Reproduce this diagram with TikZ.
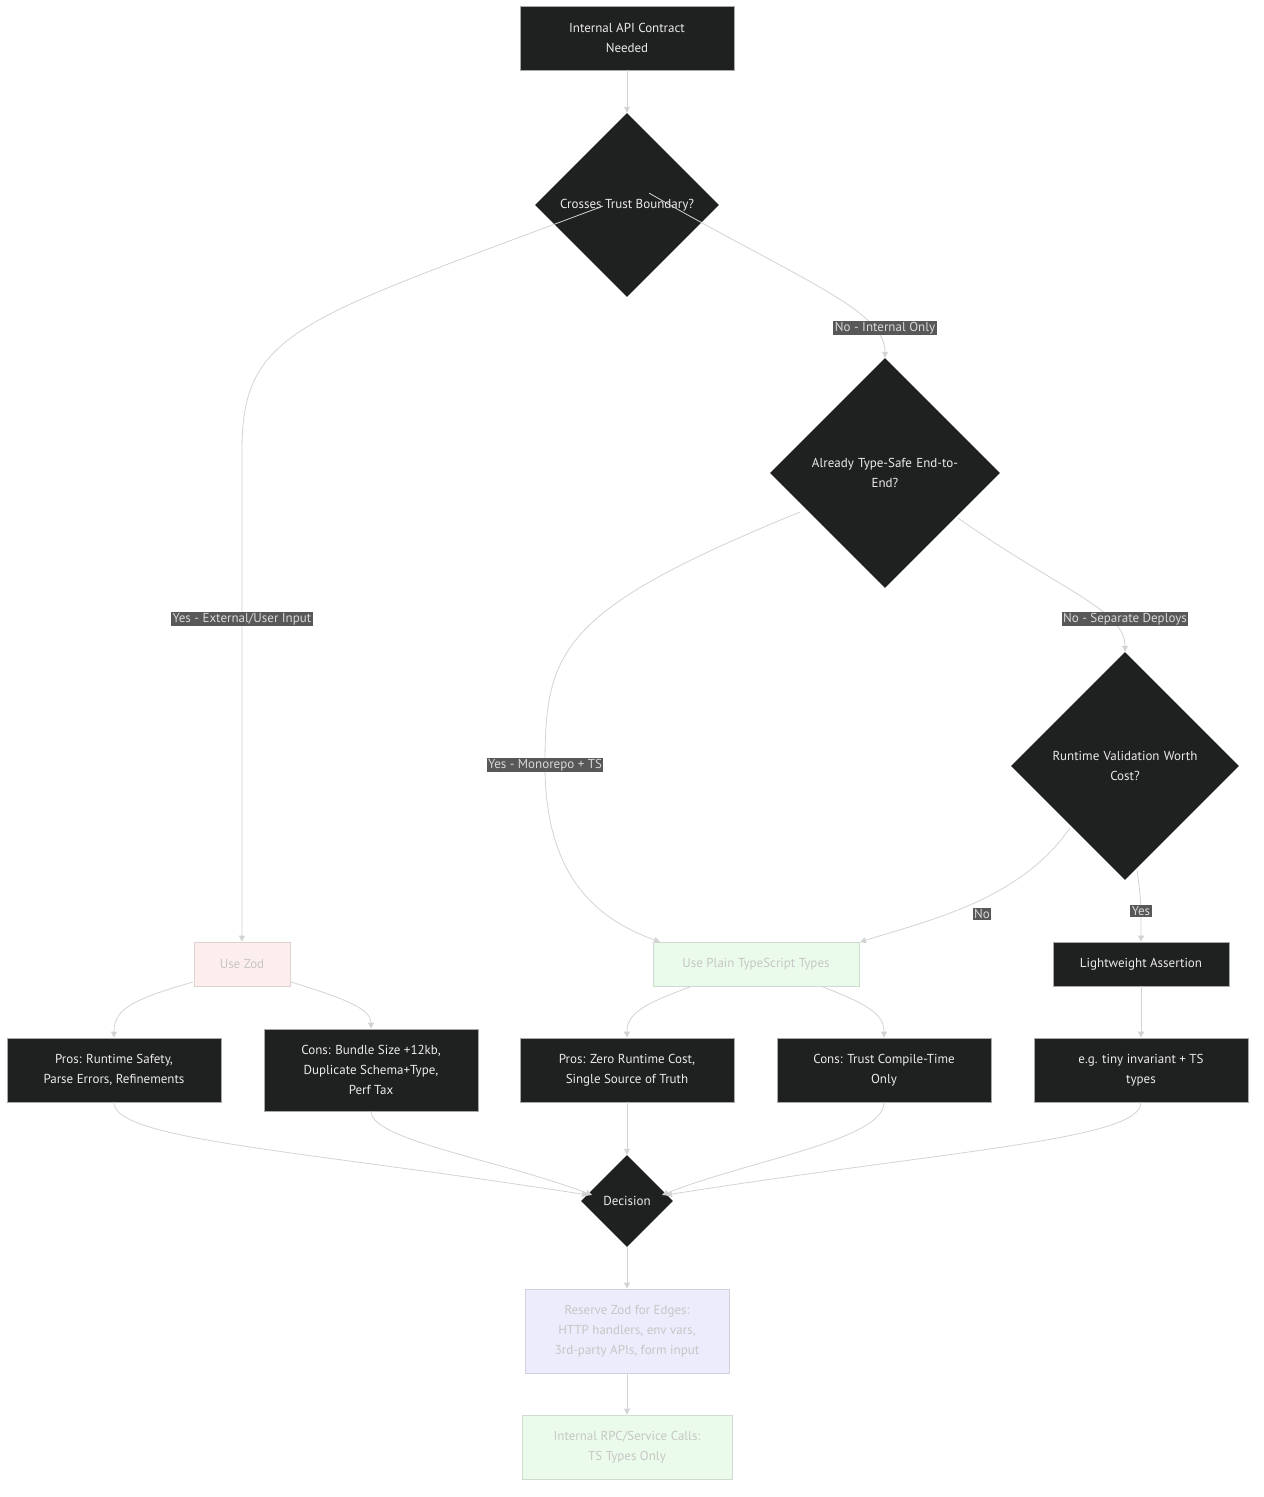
\documentclass[tikz,border=0pt]{standalone}
\usepackage{fontspec}
\setmainfont{PT Sans}
\usetikzlibrary{shapes.geometric,arrows.meta}
\definecolor{dk}{HTML}{1F2020}
\definecolor{ln}{HTML}{D3D3D3}
\definecolor{lab}{HTML}{585858}
\begin{document}
\begin{tikzpicture}[x=1pt,y=-1pt,
  font=\fontsize{13}{20}\selectfont,
  box/.style={draw=ln!80!black,fill=dk,text=white!92!black,align=center,inner sep=0pt,line width=0.8pt},
  pale/.style={draw=#1!75!gray,fill=#1,text=ln!85!gray,align=center,inner sep=0pt,line width=0.8pt},
  dia/.style={diamond,aspect=1,fill=dk,text=white!92!black,align=center,inner sep=0pt},
  e/.style={draw=ln,line width=0.8pt,-{Triangle[length=6pt,width=6pt]}},
  el/.style={fill=lab,text=white!85!black,inner sep=1.5pt,font=\fontsize{13}{15}\selectfont}]
\useasboundingbox (0,0) rectangle (1264,1497);
\definecolor{zf}{HTML}{FDEEEE}\definecolor{gf}{HTML}{EBFBEB}\definecolor{pf}{HTML}{ECECFC}
\node[box,minimum width=214,minimum height=64] (start) at (627,38) {Internal API Contract\\Needed};
\node[dia,minimum width=184,minimum height=184] (d1) at (627,205) {Crosses Trust Boundary?};
\node[dia,minimum width=230,minimum height=230,text width=160] (d2) at (885,473) {Already Type-Safe End-to-\\End?};
\node[dia,minimum width=228,minimum height=228,text width=160] (d3) at (1125,766) {Runtime Validation Worth\\Cost?};
\node[pale=zf,minimum width=96,minimum height=44] (zod) at (242,964) {Use Zod};
\node[pale=gf,minimum width=206,minimum height=44] (plain) at (756,964) {Use Plain TypeScript Types};
\node[box,minimum width=176,minimum height=44] (light) at (1141,964) {Lightweight Assertion};
\node[box,minimum width=214,minimum height=64] (pros1) at (114,1070) {Pros: Runtime Safety,\\Parse Errors, Refinements};
\node[box,minimum width=214,minimum height=82] (cons1) at (371,1070) {Cons: Bundle Size +12kb,\\Duplicate Schema+Type,\\Perf Tax};
\node[box,minimum width=214,minimum height=64] (pros2) at (627,1070) {Pros: Zero Runtime Cost,\\Single Source of Truth};
\node[box,minimum width=214,minimum height=64] (cons2) at (884,1070) {Cons: Trust Compile-Time\\Only};
\node[box,minimum width=214,minimum height=64] (eg) at (1141,1070) {e.g. tiny invariant + TS\\types};
\node[dia,minimum width=92,minimum height=92] (dec) at (627,1201) {Decision};
\node[pale=pf,minimum width=204,minimum height=84] (res) at (627,1331) {Reserve Zod for Edges:\\HTTP handlers, env vars,\\3rd-party APIs, form input};
\node[pale=gf,minimum width=210,minimum height=64] (fin) at (627,1447) {Internal RPC/Service Calls:\\TS Types Only};
% edges
\draw[e] (start) -- (d1);
\draw[e] (d1.south west) ++(22,-45) coordinate (a1) (a1) .. controls (300,320) and (242,330) .. (242,450) -- (zod.north);
\node[el] at (242,619) {Yes - External/User Input};
\draw[e] (d1.south east) ++(-24,-58) coordinate (a2) (a2) .. controls (800,280) and (885,310) .. (d2.north);
\node[el] at (885,328) {No - Internal Only};
\draw[e] (800,512) .. controls (560,610) and (545,650) .. (545,765) .. controls (545,880) and (600,920) .. (660,942);
\coordinate (pt) at (plain.north west);
\node[el] at (545,765) {Yes - Monorepo + TS};
\draw[e] (958,518) .. controls (1060,590) and (1125,610) .. (d3.north);
\node[el] at (1125,619) {No - Separate Deploys};
\draw[e] (1070,828) .. controls (1020,900) and (930,920) .. (860,942);
\node[el] at (982,914) {No};
\draw[e] (1137,870) .. controls (1141,900) .. (light.north);
\node[el] at (1141,911) {Yes};
\draw[e] (193,982) .. controls (130,1000) and (114,1010) .. (pros1.north);
\draw[e] (291,982) .. controls (350,1000) and (371,1010) .. (cons1.north);
\draw[e] (690,987) .. controls (640,1005) and (627,1015) .. (pros2.north);
\draw[e] (823,987) .. controls (870,1005) and (884,1015) .. (cons2.north);
\draw[e] (light) -- (eg);
\draw[e] (pros1.south) .. controls (114,1140) and (300,1150) .. (588,1195);
\draw[e] (cons1.south) .. controls (371,1140) and (500,1160) .. (592,1195);
\draw[e] (pros2) -- (dec);
\draw[e] (cons2.south) .. controls (884,1140) and (750,1160) .. (662,1195);
\draw[e] (eg.south) .. controls (1141,1140) and (950,1150) .. (666,1195);
\draw[e] (dec) -- (res);
\draw[e] (res) -- (fin);
\end{tikzpicture}
\end{document}
